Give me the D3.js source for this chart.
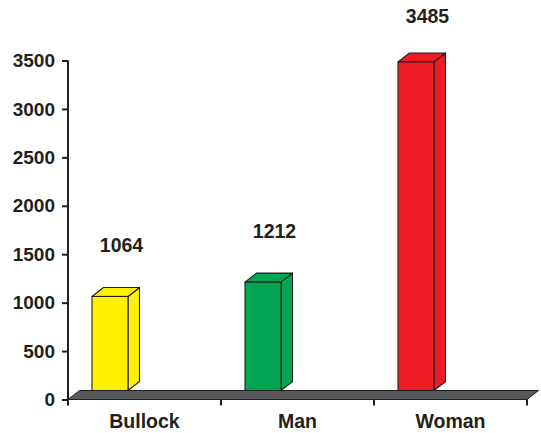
<!DOCTYPE html>
<html>
<head>
<meta charset="utf-8">
<script src="https://cdn.jsdelivr.net/npm/d3@7"></script>
<style>
  html, body { margin: 0; padding: 0; background: #fff; }
  svg text { font-family: "Liberation Sans", Arial, sans-serif; font-weight: bold; fill: #231f20; }
</style>
</head>
<body>
<svg id="chart" width="541" height="433"></svg>
<script>
// Chart data
const categories = ["Bullock", "Man", "Woman"];
const values = [1064, 1212, 3485];
const barColors = ["#fff200", "#00a651", "#ed1c24"];
const yTicks = [0, 500, 1000, 1500, 2000, 2500, 3000, 3500];

const svg = d3.select("#chart");
const ink = "#231f20";

// Pseudo-3D depth offset
const dx = 11.5, dy = 9;

const x = d3.scaleBand().domain(categories).range([68, 527]).paddingInner(0).paddingOuter(0);
const y = d3.scaleLinear().domain([0, 3500]).range([399.5, 60.5]);

const floorBack = y(0) - dy;
const barOffset = 24, barWidth = 36;

// Floor slab
const [x0, x1] = x.range();
svg.append("path")
  .attr("d", `M${x0},${y(0)} L${x1},${y(0)} L${x1 + dx},${floorBack} L${x0 + dx},${floorBack} Z`)
  .attr("fill", "#58595b")
  .attr("stroke", ink)
  .attr("stroke-width", 1);

// Value axis
const yAxis = svg.append("g")
  .attr("transform", `translate(${x0},0)`)
  .call(d3.axisLeft(y).tickValues(yTicks).tickFormat(d3.format("d"))
    .tickSize(6).tickPadding(7).tickSizeOuter(0));
yAxis.select(".domain").attr("stroke", ink).attr("stroke-width", 2)
  .attr("d", `M0,${y(3500)}V${y(0) + 5}`);
yAxis.selectAll(".tick line").attr("stroke", ink).attr("stroke-width", 2);
yAxis.selectAll(".tick text").attr("font-size", 19).attr("font-weight", "bold")
  .attr("fill", ink).attr("font-family", "'Liberation Sans', Arial, sans-serif");

// Category axis: ticks at band boundaries, labels at band centres
const xAxis = svg.append("g").attr("transform", `translate(0,${y(0)})`);
const boundaries = categories.map(c => x(c)).concat([x1]);
xAxis.selectAll("line.bound").data(boundaries).join("line")
  .attr("class", "bound")
  .attr("x1", d => d).attr("x2", d => d)
  .attr("y1", 0).attr("y2", 6)
  .attr("stroke", ink).attr("stroke-width", 2);
xAxis.selectAll("text").data(categories).join("text")
  .attr("x", d => x(d) + x.bandwidth() / 2)
  .attr("y", 28)
  .attr("text-anchor", "middle")
  .attr("font-size", 19.5)
  .text(d => d);

// Bars
const bars = svg.append("g").selectAll("g").data(categories).join("g");
bars.each(function (c, i) {
  const g = d3.select(this);
  const left = x(c) + barOffset;
  const right = left + barWidth;
  const top = y(values[i]);
  const bottom = floorBack;
  const col = barColors[i];
  // side face
  g.append("path")
    .attr("d", `M${right},${top} L${right + dx},${top - dy} L${right + dx},${bottom - dy} L${right},${bottom} Z`)
    .attr("fill", col).attr("stroke", ink).attr("stroke-width", 1.1).attr("stroke-linejoin", "round");
  // top face
  g.append("path")
    .attr("d", `M${left},${top} L${left + dx},${top - dy} L${right + dx},${top - dy} L${right},${top} Z`)
    .attr("fill", col).attr("stroke", ink).attr("stroke-width", 1.1).attr("stroke-linejoin", "round");
  // front face
  g.append("rect")
    .attr("x", left).attr("y", top)
    .attr("width", barWidth).attr("height", bottom - top)
    .attr("fill", col).attr("stroke", ink).attr("stroke-width", 1.1);
  // value label
  g.append("text")
    .attr("x", left + barWidth / 2 + dx)
    .attr("y", Math.max(top - dy - 35, 23))
    .attr("text-anchor", "middle")
    .attr("font-size", 19.5)
    .text(values[i]);
});
</script>
</body>
</html>
